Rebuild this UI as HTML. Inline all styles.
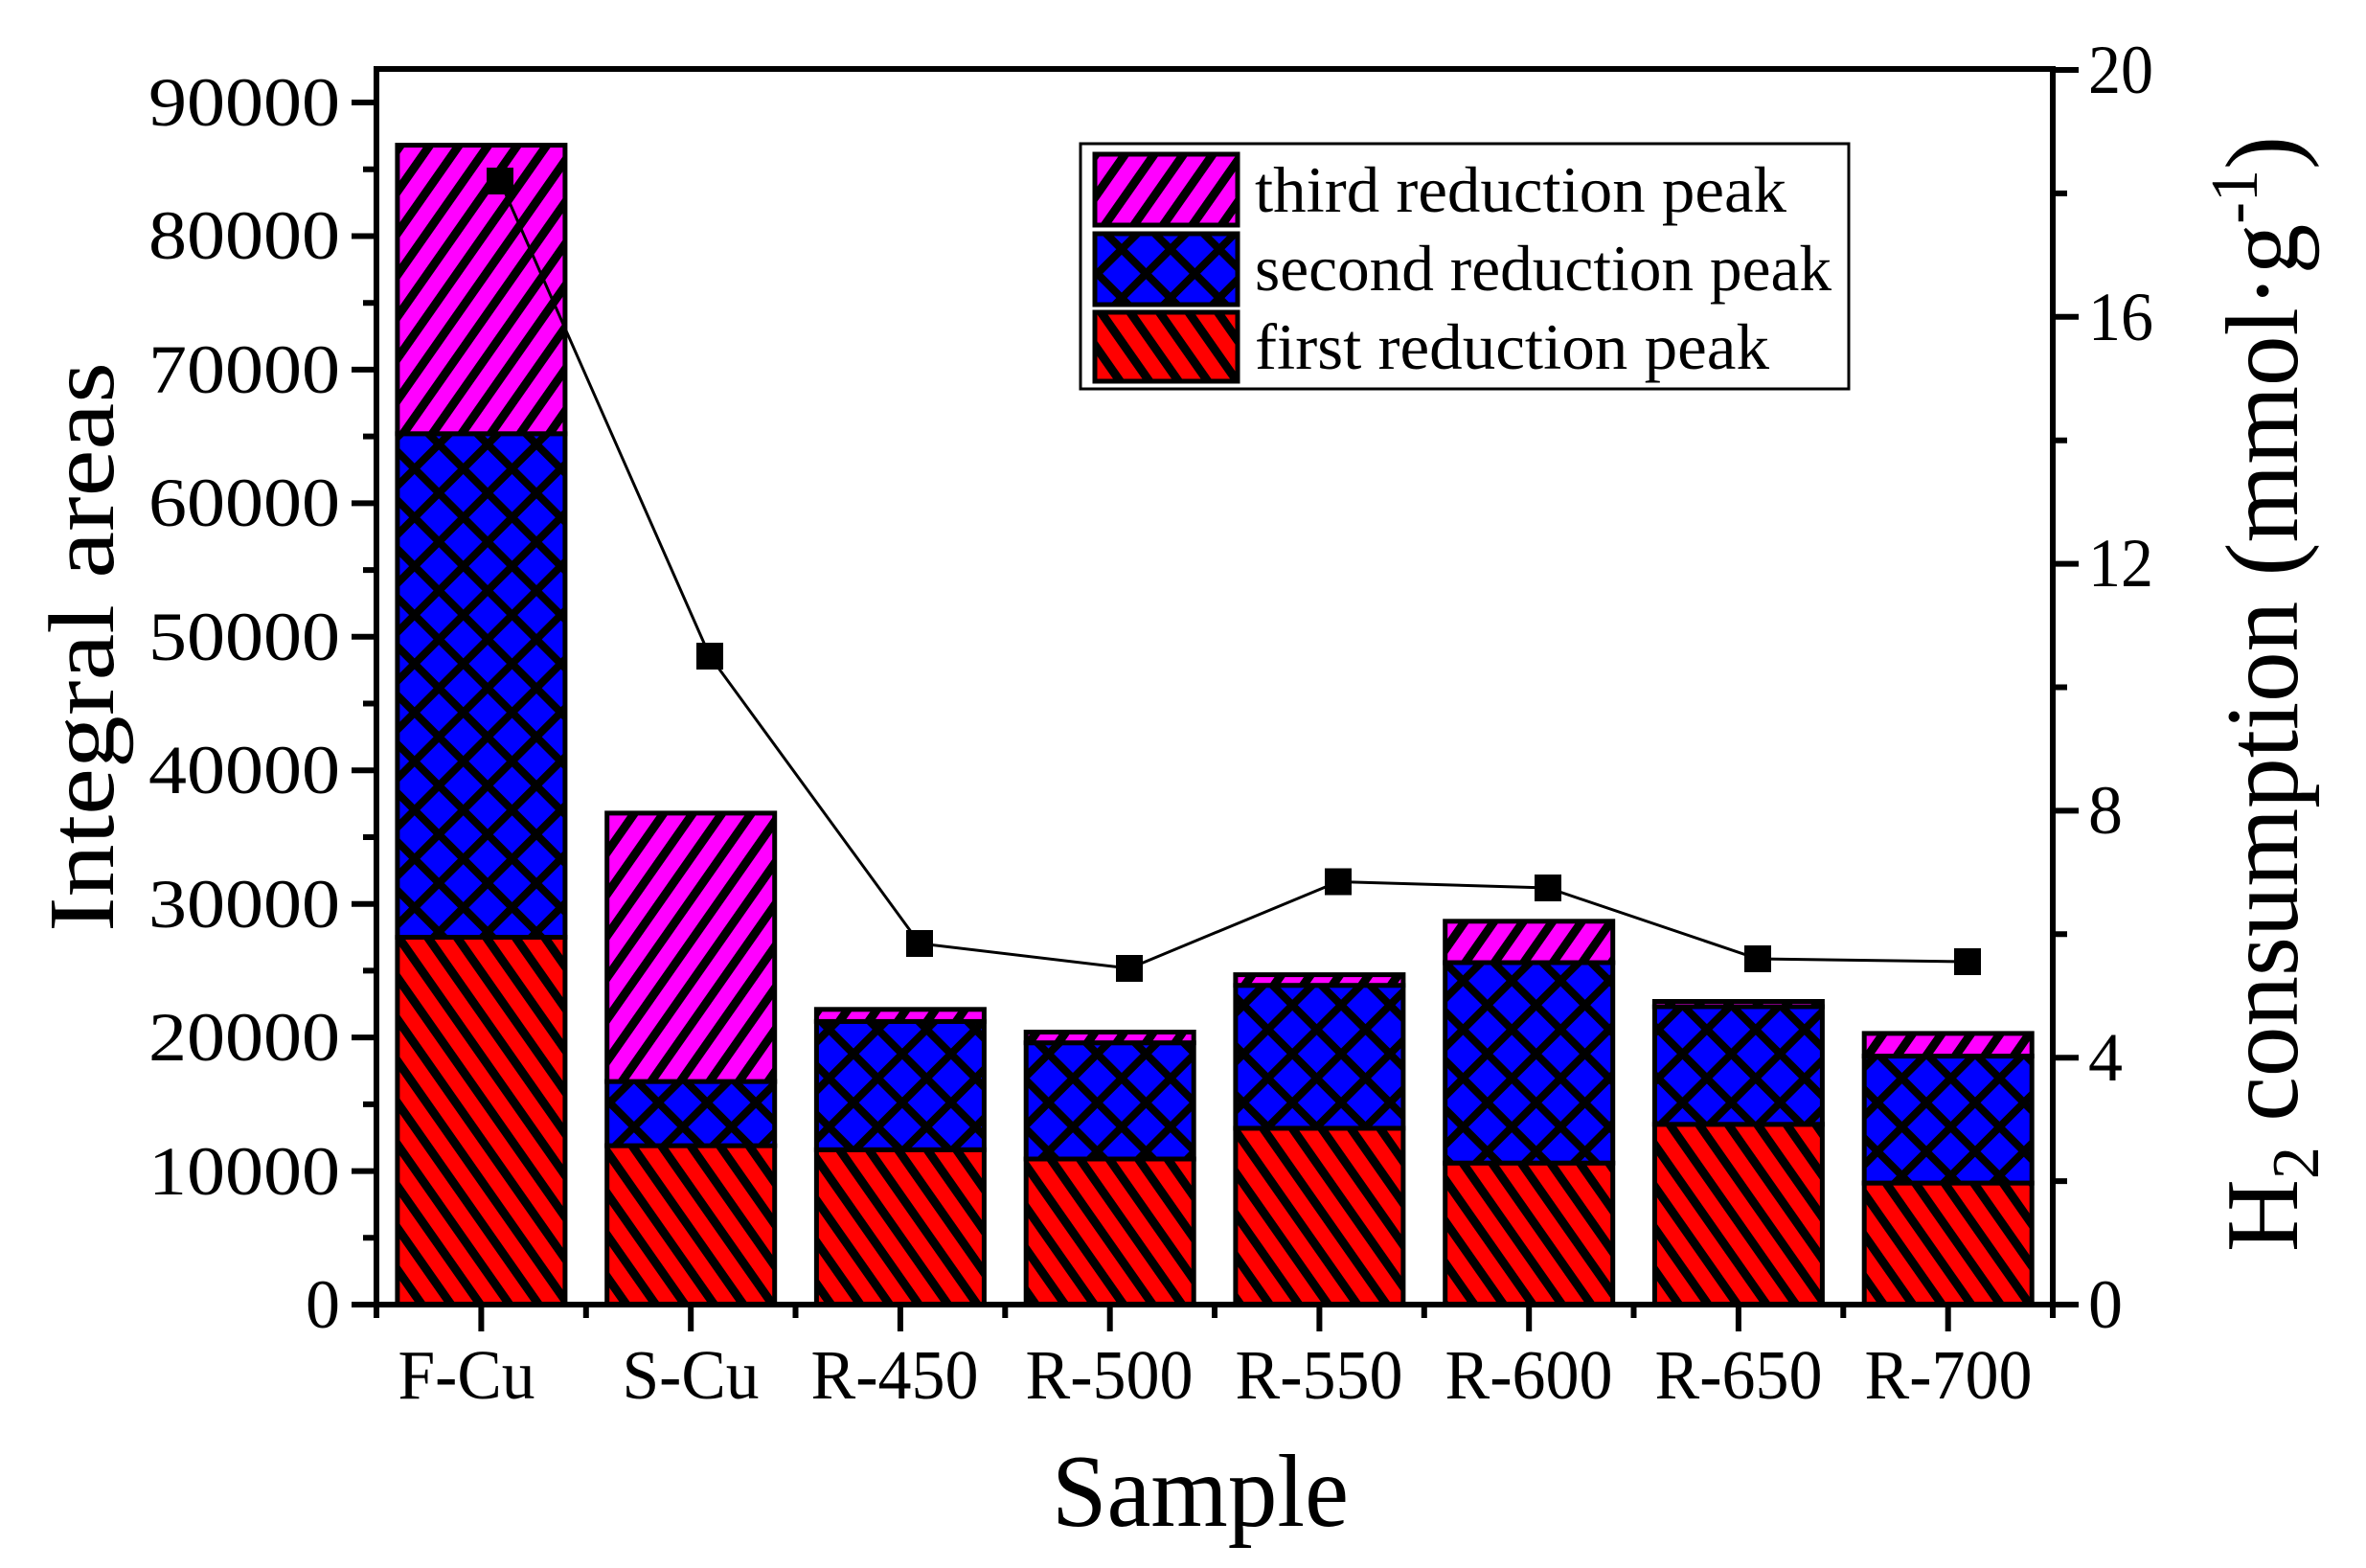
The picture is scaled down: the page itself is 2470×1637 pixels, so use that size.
<!DOCTYPE html>
<html><head><meta charset="utf-8"><style>html,body{margin:0;padding:0;background:#fff}svg{display:block}</style></head>
<body>
<svg width="2470" height="1637" viewBox="0 0 2470 1637" xmlns="http://www.w3.org/2000/svg" font-family="'Liberation Serif', serif">
<defs>
<pattern id="pr" patternUnits="userSpaceOnUse" width="25" height="25" patternTransform="rotate(-35)">
<rect width="25" height="25" fill="#ff0000"/><rect width="9" height="25" fill="#000"/></pattern>
<pattern id="pm" patternUnits="userSpaceOnUse" width="25" height="25" patternTransform="rotate(35)">
<rect width="25" height="25" fill="#ff00ff"/><rect width="9" height="25" fill="#000"/></pattern>
<pattern id="pb" patternUnits="userSpaceOnUse" width="36" height="36" patternTransform="rotate(45)">
<rect width="36" height="36" fill="#0000ff"/><rect width="8" height="36" fill="#000"/><rect width="36" height="8" fill="#000"/></pattern>
</defs>
<g stroke="#000" stroke-width="5">
<rect x="414.9" y="978.5" width="175" height="383.5" fill="url(#pr)"/>
<rect x="414.9" y="452.8" width="175" height="525.7" fill="url(#pb)"/>
<rect x="414.9" y="151.6" width="175" height="301.2" fill="url(#pm)"/>

<rect x="633.7" y="1196.1" width="175" height="165.9" fill="url(#pr)"/>
<rect x="633.7" y="1129.1" width="175" height="67" fill="url(#pb)"/>
<rect x="633.7" y="848.9" width="175" height="280.2" fill="url(#pm)"/>

<rect x="852.4" y="1200.3" width="175" height="161.7" fill="url(#pr)"/>
<rect x="852.4" y="1066.4" width="175" height="133.9" fill="url(#pb)"/>
<rect x="852.4" y="1053.8" width="175" height="12.6" fill="url(#pm)"/>

<rect x="1071.2" y="1210" width="175" height="152" fill="url(#pr)"/>
<rect x="1071.2" y="1088.7" width="175" height="121.3" fill="url(#pb)"/>
<rect x="1071.2" y="1077.5" width="175" height="11.2" fill="url(#pm)"/>

<rect x="1289.9" y="1177.9" width="175" height="184.1" fill="url(#pr)"/>
<rect x="1289.9" y="1028.7" width="175" height="149.2" fill="url(#pb)"/>
<rect x="1289.9" y="1017.6" width="175" height="11.1" fill="url(#pm)"/>

<rect x="1508.7" y="1214.2" width="175" height="147.8" fill="url(#pr)"/>
<rect x="1508.7" y="1005" width="175" height="209.2" fill="url(#pb)"/>
<rect x="1508.7" y="961.8" width="175" height="43.2" fill="url(#pm)"/>

<rect x="1727.4" y="1173.8" width="175" height="188.2" fill="url(#pr)"/>
<rect x="1727.4" y="1051" width="175" height="122.8" fill="url(#pb)"/>
<rect x="1727.4" y="1045.5" width="175" height="5.5" fill="url(#pm)"/>

<rect x="1946.2" y="1235.1" width="175" height="126.9" fill="url(#pr)"/>
<rect x="1946.2" y="1102.6" width="175" height="132.5" fill="url(#pb)"/>
<rect x="1946.2" y="1078.9" width="175" height="23.7" fill="url(#pm)"/>
</g>
<polyline fill="none" stroke="#000" stroke-width="3" points="522,189 741,685 960,985 1179,1011 1397,920.5 1616,927 1835,1001 2054,1004"/>
<g fill="#000">
<rect x="508" y="175" width="28" height="28"/><rect x="727" y="671" width="28" height="28"/>
<rect x="946" y="971" width="28" height="28"/><rect x="1165" y="997" width="28" height="28"/>
<rect x="1383" y="906.5" width="28" height="28"/><rect x="1602" y="913" width="28" height="28"/>
<rect x="1821" y="987" width="28" height="28"/><rect x="2040" y="990" width="28" height="28"/>
</g>
<path d="M393,72 H2143 V1362 H393 Z" fill="none" stroke="#000" stroke-width="6"/>
<g stroke="#000" stroke-width="6">
<path d="M367,1362H393M367,1222.6H393M367,1083.1H393M367,943.7H393M367,804.2H393M367,664.8H393M367,525.4H393M367,385.9H393M367,246.5H393M367,107H393"/>
<path d="M379,1292.3H393M379,1152.9H393M379,1013.4H393M379,874H393M379,734.5H393M379,595.1H393M379,455.6H393M379,316.2H393M379,176.8H393"/>
<path d="M2143,1362H2170M2143,1104.2H2170M2143,846.4H2170M2143,588.6H2170M2143,330.8H2170M2143,73H2170"/>
<path d="M2143,1233.1H2158M2143,975.3H2158M2143,717.5H2158M2143,459.7H2158M2143,201.9H2158"/>
<path d="M502.4,1362V1390M721.2,1362V1390M939.9,1362V1390M1158.7,1362V1390M1377.4,1362V1390M1596.2,1362V1390M1814.9,1362V1390M2033.7,1362V1390"/>
<path d="M393,1362V1376M611.8,1362V1376M830.5,1362V1376M1049.3,1362V1376M1268,1362V1376M1486.8,1362V1376M1705.5,1362V1376M1924.3,1362V1376M2143,1362V1376"/>
</g>
<g font-size="72" text-anchor="end" fill="#000">
<text x="355" y="1386">0</text>
<text x="355" y="1247" textLength="200" lengthAdjust="spacingAndGlyphs">10000</text>
<text x="355" y="1107" textLength="200" lengthAdjust="spacingAndGlyphs">20000</text>
<text x="355" y="968" textLength="200" lengthAdjust="spacingAndGlyphs">30000</text>
<text x="355" y="828" textLength="200" lengthAdjust="spacingAndGlyphs">40000</text>
<text x="355" y="689" textLength="200" lengthAdjust="spacingAndGlyphs">50000</text>
<text x="355" y="549" textLength="200" lengthAdjust="spacingAndGlyphs">60000</text>
<text x="355" y="410" textLength="200" lengthAdjust="spacingAndGlyphs">70000</text>
<text x="355" y="270" textLength="200" lengthAdjust="spacingAndGlyphs">80000</text>
<text x="355" y="131" textLength="200" lengthAdjust="spacingAndGlyphs">90000</text>
</g>
<g font-size="72" fill="#000">
<text x="2180" y="1386">0</text>
<text x="2180" y="1128">4</text>
<text x="2180" y="870">8</text>
<text x="2180" y="612" textLength="68" lengthAdjust="spacingAndGlyphs">12</text>
<text x="2180" y="355" textLength="68" lengthAdjust="spacingAndGlyphs">16</text>
<text x="2180" y="97" textLength="68" lengthAdjust="spacingAndGlyphs">20</text>
</g>
<g font-size="73" text-anchor="middle" fill="#000">
<text x="487" y="1460" textLength="143" lengthAdjust="spacingAndGlyphs">F-Cu</text>
<text x="721" y="1460" textLength="143" lengthAdjust="spacingAndGlyphs">S-Cu</text>
<text x="934" y="1460" textLength="175" lengthAdjust="spacingAndGlyphs">R-450</text>
<text x="1158" y="1460" textLength="175" lengthAdjust="spacingAndGlyphs">R-500</text>
<text x="1377" y="1460" textLength="175" lengthAdjust="spacingAndGlyphs">R-550</text>
<text x="1596" y="1460" textLength="175" lengthAdjust="spacingAndGlyphs">R-600</text>
<text x="1815" y="1460" textLength="175" lengthAdjust="spacingAndGlyphs">R-650</text>
<text x="2034" y="1460" textLength="175" lengthAdjust="spacingAndGlyphs">R-700</text>
</g>
<text x="1098" y="1593" font-size="108" textLength="310" lengthAdjust="spacingAndGlyphs">Sample</text>
<text transform="translate(118,973) rotate(-90)" font-size="98" textLength="595" lengthAdjust="spacingAndGlyphs">Integral areas</text>
<text transform="translate(2398,1307) rotate(-90)" font-size="108" textLength="1165" lengthAdjust="spacingAndGlyphs">H<tspan font-size="70" dy="22">2</tspan><tspan dy="-22"> consumption (mmol·g</tspan><tspan font-size="70" dy="-42">-1</tspan><tspan dy="42">)</tspan></text>
<rect x="1128" y="150" width="802" height="256" fill="#fff" stroke="#000" stroke-width="3"/>
<g stroke="#000" stroke-width="5">
<rect x="1143" y="161" width="149" height="74" fill="url(#pm)"/>
<rect x="1143" y="244" width="149" height="74" fill="url(#pb)"/>
<rect x="1143" y="326" width="149" height="72" fill="url(#pr)"/>
</g>
<g font-size="68" fill="#000">
<text x="1310" y="221" textLength="555" lengthAdjust="spacingAndGlyphs">third reduction peak</text>
<text x="1310" y="303" textLength="602" lengthAdjust="spacingAndGlyphs">second reduction peak</text>
<text x="1310" y="385" textLength="537" lengthAdjust="spacingAndGlyphs">first reduction peak</text>
</g>
</svg>
</body></html>
